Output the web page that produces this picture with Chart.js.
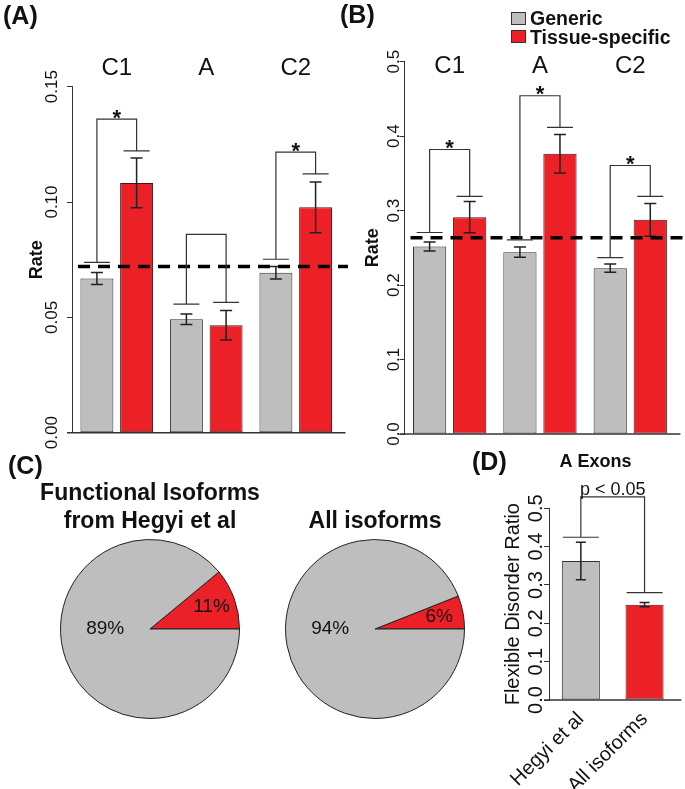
<!DOCTYPE html>
<html>
<head>
<meta charset="utf-8">
<script src="https://cdn.jsdelivr.net/npm/chart.js@4.4.1/dist/chart.umd.min.js"></script>
<style>
  html, body { margin: 0; padding: 0; background: #fff; }
  #fig { position: relative; width: 685px; height: 789px; overflow: hidden; font-family: 'Liberation Sans', Arial, sans-serif; color: #111; }
  canvas { position: absolute; }
  .tag { position: absolute; font-weight: bold; font-size: 25px; line-height: 25px; }
  #legend { position: absolute; left: 511px; top: 9px; font-weight: bold; font-size: 19.5px; line-height: 18.5px; }
  #legend .row { display: flex; align-items: center; white-space: nowrap; }
  #legend .box { width: 15px; height: 13px; border: 1px solid #333; margin-right: 4px; box-sizing: border-box; }
</style>
</head>
<body>
<div id="fig">
  <canvas id="chartA" width="350" height="455" style="left:0;top:0"></canvas>
  <canvas id="chartB" width="345" height="450" style="left:340px;top:0"></canvas>
  <canvas id="pie1" width="260" height="244" style="left:20px;top:475px"></canvas>
  <canvas id="pie2" width="260" height="244" style="left:245px;top:475px"></canvas>
  <canvas id="chartD" width="205" height="344" style="left:480px;top:445px"></canvas>
  <div class="tag" style="left:3px;top:3px">(A)</div>
  <div class="tag" style="left:340px;top:2px">(B)</div>
  <div class="tag" style="left:8px;top:453px">(C)</div>
  <div class="tag" style="left:472px;top:449px">(D)</div>
  <div id="legend"></div>
</div>
<script>
const FONT = "'Liberation Sans', Arial, sans-serif";
const GRAY = '#bebebe';
const RED = '#ec2127';
const INK = '#222';

// --- Data ---
const groups = ['C1', 'A', 'C2'];
const seriesNames = ['Generic', 'Tissue-specific'];

// (A)
const aGeneric = [0.0669, 0.0492, 0.0693];
const aGenericErr = [0.0026, 0.0023, 0.0027];
const aTissue = [0.1083, 0.0466, 0.0977];
const aTissueErr = [0.0108, 0.0064, 0.0110];
const aBracketTop = [0.1359, 0.0860, 0.1216];
const aBracketLeft = [0.0738, 0.0557, 0.0752];
const aBracketRight = [0.1222, 0.0565, 0.1122];
const aMarks = ['*', '', '*'];
const aRefLine = 0.072;
const aTicks = [0, 0.15, 0.05];

// (B)
const bGeneric = [0.2518, 0.2442, 0.2227];
const bGenericErr = [0.0060, 0.0068, 0.0056];
const bTissue = [0.2912, 0.3763, 0.2876];
const bTissueErr = [0.0209, 0.0258, 0.0220];
const bBracketTop = [0.3821, 0.4543, 0.3606];
const bBracketLeft = [0.2706, 0.2608, 0.2370];
const bBracketRight = [0.3190, 0.4117, 0.3190];
const bMarks = ['*', '*', '*'];
const bRefLine = 0.2634;
const bTicks = [0, 0.5, 0.1];

// (C)
const sliceNames = ['Tissue-specific', 'Generic'];
const hegyiShare = [11, 89];
const allShare = [6, 94];

// (D)
const dLabels = ['Hegyi et al', 'All isoforms'];
const dValues = [0.3626, 0.2487];
const dErr = [0.049, 0.0058];
const dBracket = { top: 0.530, left: 0.4245, right: 0.280, text: 'p < 0.05' };

// --- Plugins ---
const annot = {
  id: 'annot',
  afterDatasetsDraw(chart, args, o) {
    const ctx = chart.ctx, y = chart.scales.y, area = chart.chartArea;
    ctx.save();
    // baseline
    ctx.strokeStyle = '#333';
    ctx.lineWidth = 1.5;
    ctx.beginPath();
    ctx.moveTo(area.left - 5, area.bottom);
    ctx.lineTo(area.right + 5, area.bottom);
    ctx.stroke();

    // error bars
    chart.data.datasets.forEach((ds, d) => {
      if (!ds.errors) return;
      chart.getDatasetMeta(d).data.forEach((bar, i) => {
        const hi = y.getPixelForValue(ds.data[i] + ds.errors[i]);
        const lo = y.getPixelForValue(ds.data[i] - ds.errors[i]);
        const w = o.errCap / 2;
        ctx.strokeStyle = INK;
        ctx.lineWidth = 1.5;
        ctx.beginPath();
        ctx.moveTo(bar.x, hi); ctx.lineTo(bar.x, lo);
        ctx.moveTo(bar.x - w, hi); ctx.lineTo(bar.x + w, hi);
        ctx.moveTo(bar.x - w, lo); ctx.lineTo(bar.x + w, lo);
        ctx.stroke();
      });
    });

    // reference line
    if (o.refLine != null) {
      const py = y.getPixelForValue(o.refLine);
      ctx.setLineDash([12, 8]);
      ctx.lineWidth = 3.5;
      ctx.strokeStyle = '#000';
      ctx.beginPath();
      ctx.moveTo(area.left + 6, py);
      ctx.lineTo(chart.width - 2, py);
      ctx.stroke();
      ctx.setLineDash([]);
    }

    // brackets
    (o.brackets || []).forEach(b => {
      const x1 = chart.getDatasetMeta(b.a[0]).data[b.a[1]].x;
      const x2 = chart.getDatasetMeta(b.b[0]).data[b.b[1]].x;
      const yt = y.getPixelForValue(b.top);
      const yl = y.getPixelForValue(b.left);
      const yr = y.getPixelForValue(b.right);
      const w = o.bracketCap / 2;
      ctx.strokeStyle = '#333';
      ctx.lineWidth = 1.2;
      ctx.beginPath();
      ctx.moveTo(x1, yl); ctx.lineTo(x1, yt); ctx.lineTo(x2, yt); ctx.lineTo(x2, yr);
      ctx.moveTo(x1 - w, yl); ctx.lineTo(x1 + w, yl);
      ctx.moveTo(x2 - w, yr); ctx.lineTo(x2 + w, yr);
      ctx.stroke();
      if (b.text) {
        ctx.fillStyle = '#111';
        ctx.font = o.textFont;
        ctx.textAlign = 'center';
        ctx.textBaseline = 'alphabetic';
        ctx.fillText(b.text, (x1 + x2) / 2, yt + o.textDy);
      }
    });
    ctx.restore();
  }
};

const pieText = {
  id: 'pieText',
  afterDatasetsDraw(chart) {
    const ctx = chart.ctx;
    const ds = chart.data.datasets[0];
    ctx.save();
    ctx.fillStyle = '#111';
    ctx.font = '19px ' + FONT;
    ctx.textAlign = 'center';
    ctx.textBaseline = 'middle';
    chart.getDatasetMeta(0).data.forEach((arc, i) => {
      const span = arc.endAngle - arc.startAngle;
      let ang = (arc.startAngle + arc.endAngle) / 2, rr = arc.outerRadius * 0.73;
      if (span > Math.PI) { ang = Math.PI; rr = arc.outerRadius * 0.5; }
      ctx.fillText(ds.data[i] + '%', arc.x + Math.cos(ang) * rr, arc.y + Math.sin(ang) * rr);
    });
    ctx.restore();
  }
};

// --- Builders ---
function yAxis(range, digits, size, width, tickPad, title, titleFont, titlePad) {
  return {
    min: range[0], max: range[1],
    afterFit: s => { s.width = width; },
    ticks: {
      stepSize: range[2], autoSkip: false,
      minRotation: 90, maxRotation: 90, crossAlign: 'center', padding: tickPad,
      font: { family: FONT, size: size }, color: '#111',
      callback: v => Number(v).toFixed(digits)
    },
    grid: { drawOnChartArea: false, tickLength: 5, color: '#333', lineWidth: 1 },
    border: { color: '#333', width: 1 },
    title: { display: true, text: title, font: titleFont, color: '#111', padding: { top: titlePad, bottom: 0 } }
  };
}

function groupedChart(id, gen, genErr, tis, tisErr, top, left, right, marks, ref, ticks, geo) {
  const brackets = groups.map((g, i) => ({
    a: [0, i], b: [1, i], top: top[i], left: left[i], right: right[i], text: marks[i]
  }));
  return new Chart(document.getElementById(id), {
    type: 'bar',
    data: {
      labels: groups,
      datasets: [
        { label: seriesNames[0], data: gen, errors: genErr, backgroundColor: GRAY, borderColor: '#333', borderWidth: 1, borderSkipped: false },
        { label: seriesNames[1], data: tis, errors: tisErr, backgroundColor: RED, borderColor: '#4a1414', borderWidth: 1, borderSkipped: false }
      ]
    },
    options: {
      responsive: false, animation: false,
      categoryPercentage: 0.887, barPercentage: 0.83,
      layout: { padding: { left: 0, right: geo.padR, top: 0, bottom: geo.padB } },
      scales: {
        x: {
          position: 'top',
          afterFit: s => { s.height = geo.topH; },
          grid: { display: false, drawTicks: false },
          border: { display: false },
          ticks: { font: { family: FONT, size: 24 }, color: '#111', padding: geo.catPad, mirror: geo.mirror }
        },
        y: yAxis(ticks, geo.digits, 17, geo.axisW, geo.tickPad, 'Rate',
          { family: FONT, size: 18, weight: 'bold' }, geo.titlePad)
      },
      plugins: {
        legend: { display: false },
        tooltip: { enabled: false },
        annot: { refLine: ref, brackets: brackets, errCap: 12, bracketCap: 26,
                 textFont: 'bold 22px ' + FONT, textDy: 5.5 }
      }
    },
    plugins: [annot]
  });
}

function pieChart(id, shares, titleLines, titlePadTop) {
  return new Chart(document.getElementById(id), {
    type: 'pie',
    data: {
      labels: sliceNames,
      datasets: [{ data: shares, backgroundColor: [RED, GRAY], borderColor: '#222', borderWidth: 1, hoverOffset: 0 }]
    },
    options: {
      responsive: false, animation: false,
      rotation: 90 - shares[0] * 3.6,
      plugins: {
        legend: { display: false },
        tooltip: { enabled: false },
        title: {
          display: true, text: titleLines, color: '#111',
          font: { family: FONT, size: 23, weight: 'bold', lineHeight: 1.235 },
          padding: { top: titlePadTop, bottom: 3.1 }
        }
      }
    },
    plugins: [pieText]
  });
}

// --- Render ---
groupedChart('chartA', aGeneric, aGenericErr, aTissue, aTissueErr,
  aBracketTop, aBracketLeft, aBracketRight, aMarks, aRefLine, aTicks,
  { padR: 9.5, padB: 22.3, topH: 86.7, catPad: 4, mirror: false, axisW: 72, tickPad: -2.2, titlePad: 25.9, digits: 2 });

// category labels of (B) sit just below the top of its y range
groupedChart('chartB', bGeneric, bGenericErr, bTissue, bTissueErr,
  bBracketTop, bBracketLeft, bBracketRight, bMarks, bRefLine, bTicks,
  { padR: 9.6, padB: 16, topH: 61.7, catPad: -9.4, mirror: true, axisW: 64.5, tickPad: -6.6, titlePad: 22.2, digits: 1 });

pieChart('pie1', hegyiShare, ['Functional Isoforms', 'from Hegyi et al'], 4.1);
pieChart('pie2', allShare, ['All isoforms'], 32.5);

new Chart(document.getElementById('chartD'), {
  type: 'bar',
  data: {
    labels: dLabels,
    datasets: [{
      label: 'Flexible Disorder Ratio', data: dValues, errors: dErr,
      backgroundColor: [GRAY, RED], borderColor: ['#333', '#4a1414'], borderWidth: 1, borderSkipped: false
    }]
  },
  options: {
    responsive: false, animation: false,
    categoryPercentage: 1, barPercentage: 0.597,
    layout: { padding: { left: 34.6, right: 8.6, top: 0, bottom: 0 } },
    scales: {
      x: {
        afterFit: s => { s.height = 89; },
        grid: { display: false, drawTicks: false },
        border: { display: false },
        ticks: { font: { family: FONT, size: 20 }, color: '#111', minRotation: 45, maxRotation: 45, padding: 7.5 }
      },
      y: yAxis([0, 0.5, 0.1], 1, 20, 34.4, -5.9, 'Flexible Disorder Ratio',
        { family: FONT, size: 20 }, -13.6)
    },
    plugins: {
      legend: { display: false },
      tooltip: { enabled: false },
      title: {
        display: true, text: 'A Exons', color: '#111',
        font: { family: FONT, size: 18, weight: 'bold' },
        padding: { top: 5.9, bottom: 35.8 }
      },
      annot: {
        brackets: [{ a: [0, 0], b: [0, 1], top: dBracket.top, left: dBracket.left, right: dBracket.right, text: dBracket.text }],
        errCap: 10, bracketCap: 36, textFont: '18px ' + FONT, textDy: -2.2
      }
    }
  },
  plugins: [annot]
});

// legend for (B)
document.getElementById('legend').innerHTML = seriesNames.map((n, i) =>
  `<div class="row"><span class="box" style="background:${[GRAY, RED][i]}"></span>${n}</div>`).join('');
</script>
</body>
</html>
